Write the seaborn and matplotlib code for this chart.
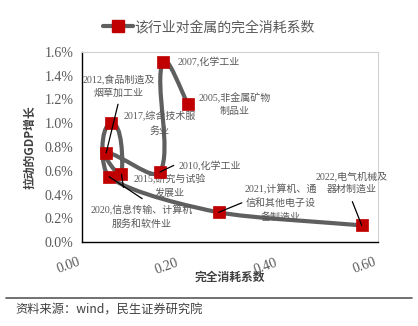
import numpy as np
import pandas as pd
import matplotlib
matplotlib.use("Agg")
import matplotlib.pyplot as plt
import seaborn as sns
from matplotlib.path import Path
from matplotlib.patches import PathPatch
from matplotlib.lines import Line2D

# ---------------- data ----------------
years = ["2005", "2007", "2010", "2012", "2015", "2017", "2020", "2021", "2022"]
industries = ["非金属矿物\n制品业", "化学工业", "化学工业", "食品制造及\n烟草加工业",
              "研究与试验\n发展业", "综合技术服\n务业", "信息传输、计算机\n服务和软件业",
              "计算机、通\n信和其他电子设\n备制造业", "电气机械及\n器材制造业"]
consumption = [0.215, 0.164, 0.158, 0.049, 0.080, 0.059, 0.055, 0.277, 0.567]
gdp_growth = [1.16, 1.52, 0.59, 0.75, 0.57, 1.00, 0.55, 0.25, 0.14]   # percent
x_ticks = [0.0, 0.2, 0.4, 0.6]
y_ticks = [0.0, 0.2, 0.4, 0.6, 0.8, 1.0, 1.2, 1.4, 1.6]
series_name = "该行业对金属的完全消耗系数"
x_title = "完全消耗系数"
y_title = "拉动的GDP增长"
source = "资料来源：wind，民生证券研究院"

df = pd.DataFrame({"year": years, "industry": industries,
                   "x": consumption, "y": gdp_growth})

# label layout (text position in data coords, alignment, leader line)
label_pos = {
    "2005": (0.310, 1.16, "center", False),
    "2007": (0.193, 1.515, "left", False),
    "2010": (0.195, 0.635, "left", True),
    "2012": (0.075, 1.31, "center", True),
    "2015": (0.178, 0.474, "center", False),
    "2017": (0.157, 0.998, "center", False),
    "2020": (0.121, 0.212, "center", True),
    "2021": (0.403, 0.33, "center", True),
    "2022": (0.547, 0.50, "center", True),
}
leader_start = {
    "2010": (0.186, 0.645),
    "2012": (0.073, 1.16),
    "2020": (0.122, 0.365),
    "2021": (0.324, 0.33),
    "2022": (0.548, 0.34),
}

# ---------------- style ----------------
sns.set_theme(style="white")
plt.rcParams["font.family"] = ["Noto Sans CJK SC", "DejaVu Sans"]
plt.rcParams["axes.unicode_minus"] = False

GRAY_TXT = "#595959"
LINE_C = "#5f5f5f"
RED = "#C00000"

fig = plt.figure(figsize=(4.18, 3.26), dpi=100)
ax = fig.add_axes([82 / 418, 1 - 242 / 326, (378 - 82) / 418, (242 - 52) / 326])
ax.set_xlim(0, 0.6)
ax.set_ylim(0, 1.6)

# smoothed line: cubic Bezier segments whose control points follow the
# neighbour direction, scaled by the segment length (computed in display space)
P = np.column_stack([df["x"].to_numpy(), df["y"].to_numpy()])
D = ax.transData.transform(P)
n = len(D)
K = 0.22


def unit(v):
    L = np.hypot(*v)
    return v / L if L > 0 else v


verts_d = [D[0]]
codes = [Path.MOVETO]
for i in range(n - 1):
    p1, p2 = D[i], D[i + 1]
    seg = np.hypot(*(p2 - p1))
    t1 = unit(p2 - D[i - 1]) if i > 0 else unit(p2 - p1)
    t2 = unit(D[i + 2] - p1) if i + 2 < n else unit(p2 - p1)
    c1 = p1 + t1 * seg * K
    c2 = p2 - t2 * seg * K
    verts_d += [c1, c2, p2]
    codes += [Path.CURVE4] * 3
verts = ax.transData.inverted().transform(np.array(verts_d))
ax.add_patch(PathPatch(Path(verts, codes), facecolor="none", edgecolor=LINE_C,
                       lw=3.0, capstyle="round", joinstyle="round", zorder=2))

sns.scatterplot(data=df, x="x", y="y", ax=ax, marker="s", s=75, color=RED,
                edgecolor=RED, linewidth=0.5, zorder=4, legend=False)

# labels
lab_font = ["Liberation Serif", "Noto Sans CJK SC"]
for yr, ind, xv, yv in zip(years, industries, consumption, gdp_growth):
    tx, ty, ha, lead = label_pos[yr]
    ax.text(tx, ty, f"{yr},{ind}", ha=ha, va="center", fontsize=7.2,
            color=GRAY_TXT, family=lab_font, linespacing=1.55, zorder=3,
            multialignment="center")
    if lead:
        sx, sy = leader_start[yr]
        ax.plot([sx, xv], [sy, yv], color="black", lw=0.9, zorder=5)
# short leader at 2015 marker
i15 = years.index("2015")
ax.plot([consumption[i15], consumption[i15] + 0.004], [gdp_growth[i15], gdp_growth[i15] - 0.11],
        color="black", lw=0.9, zorder=5)

# axes
ax.set_xticks(x_ticks)
ax.set_yticks(y_ticks)
ax.set_xticklabels([f"{v:.2f}" for v in x_ticks], rotation=20, ha="right",
                   va="top", family="Liberation Serif", fontsize=10, color=GRAY_TXT)
ax.set_yticklabels([f"{v:.1f}%" for v in y_ticks], family="Liberation Serif",
                   fontsize=10, color=GRAY_TXT)
ax.tick_params(axis="both", direction="in", length=4, width=1, color="black")
ax.tick_params(axis="x", pad=10)
ax.tick_params(axis="y", pad=6)
for side in ["left", "bottom"]:
    ax.spines[side].set_color("black")
    ax.spines[side].set_linewidth(1.0)
for side in ["top", "right"]:
    ax.spines[side].set_color("#d0d0d0")
    ax.spines[side].set_linewidth(0.8)
ax.set_xlabel(x_title, fontsize=8.5, fontweight="bold", color="#404040")
ax.set_ylabel(y_title, fontsize=8.5, fontweight="bold", color="#404040")
ax.xaxis.set_label_coords(0.5, -0.185)
ax.xaxis.label.set_va("center")
ax.yaxis.set_label_coords(-52 / 296, 0.5)
ax.yaxis.label.set_va("center")

# legend
handle = Line2D([0], [0], color=LINE_C, lw=3, marker="s", markersize=8,
                markerfacecolor=RED, markeredgecolor=RED)
fig.legend([handle], [series_name], loc="center", bbox_to_anchor=(0.5, 1 - 27 / 326),
           frameon=False, fontsize=10, handlelength=2.2, handletextpad=0.1,
           labelcolor=GRAY_TXT)

# footer
fig.add_artist(Line2D([6 / 418, 412 / 418], [1 - 298 / 326, 1 - 298 / 326],
                      color="#595959", lw=1.2, transform=fig.transFigure))
fig.text(15 / 418, 1 - 310 / 326, source, fontsize=8.8, color="#404040",
         va="center", ha="left")

fig.savefig("out.png", dpi=100)
